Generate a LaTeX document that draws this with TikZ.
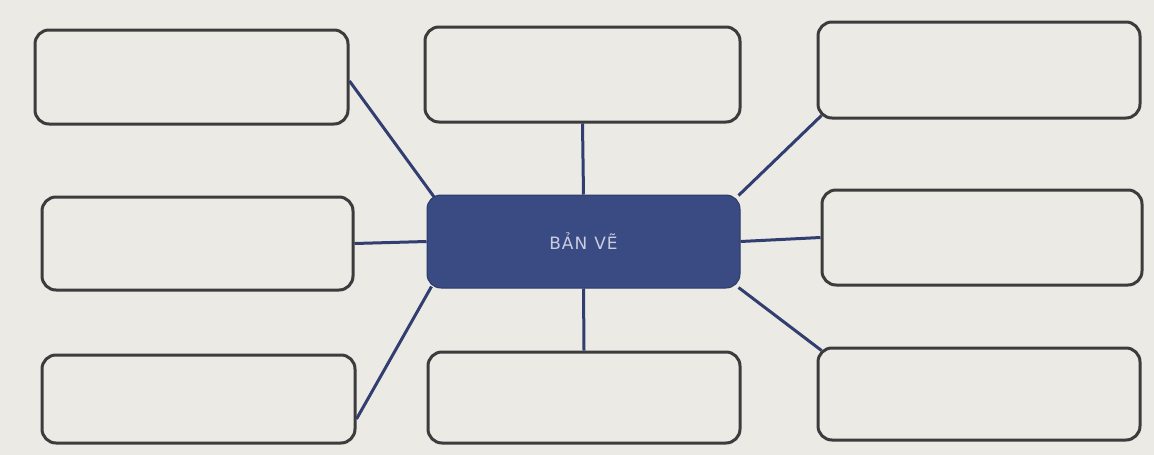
\documentclass[tikz,border=0pt]{standalone}
\usepackage{fontspec}
\setmainfont{DejaVu Sans}
\usetikzlibrary{calc,backgrounds}
\definecolor{bg}{HTML}{EBEAE4}
\definecolor{boxline}{HTML}{3C3C3E}
\definecolor{link}{HTML}{323D70}
\definecolor{core}{HTML}{3A4A82}
\definecolor{coretext}{HTML}{C9CDE0}
\tikzset{
  leaf/.style={draw=boxline, line width=3pt, rounded corners=14pt, fill=bg, inner sep=0pt},
  hub/.style={draw=core!80!black, line width=1pt, rounded corners=14pt, fill=core, inner sep=0pt,
    text=coretext, font=\fontsize{17}{20}\selectfont},
  conn/.style={draw=link, line width=3pt}
}
\begin{document}
\begin{tikzpicture}[x=1pt,y=-1pt]
\useasboundingbox (0,0) rectangle (1154,455);
\node[leaf, minimum width=313pt, minimum height=94pt] (tl) at (191.5,77) {};
\node[leaf, minimum width=315pt, minimum height=95pt] (tm) at (582.5,74.5) {};
\node[leaf, minimum width=322pt, minimum height=96pt] (tr) at (979,70) {};
\node[leaf, minimum width=311pt, minimum height=93pt] (ml) at (197.5,243.5) {};
\node[hub, minimum width=313pt, minimum height=93pt] (c) at (583.5,241.5) {B\kern1ptẢ\kern1ptN\hspace{7pt}V\kern1ptẼ};
\node[leaf, minimum width=320pt, minimum height=95pt] (mr) at (982,237.5) {};
\node[leaf, minimum width=313pt, minimum height=88pt] (bl) at (198.5,399) {};
\node[leaf, minimum width=312pt, minimum height=91pt] (bm) at (584,397.5) {};
\node[leaf, minimum width=322pt, minimum height=92pt] (br) at (979,394) {};
\begin{pgfonlayer}{background}
\fill[bg] (0,0) rectangle (1154,455);
\draw[conn] ($(tl.east)+(0,4)$) -- ($(c.north west)+(8,3)$);
\draw[conn] (tm.south) -- (c.north);
\draw[conn] ($(tr.south west)+(5,-4)$) -- ($(c.north east)+(-2,1)$);
\draw[conn] (ml.east) -- (c.west);
\draw[conn] (c.east) -- (mr.west);
\draw[conn] ($(bl.east)+(0,20)$) -- ($(c.south west)+(5,-2)$);
\draw[conn] (c.south) -- (bm.north);
\draw[conn] ($(c.south east)+(-2,-1)$) -- ($(br.north west)+(5,4)$);
\end{pgfonlayer}
\end{tikzpicture}
\end{document}
